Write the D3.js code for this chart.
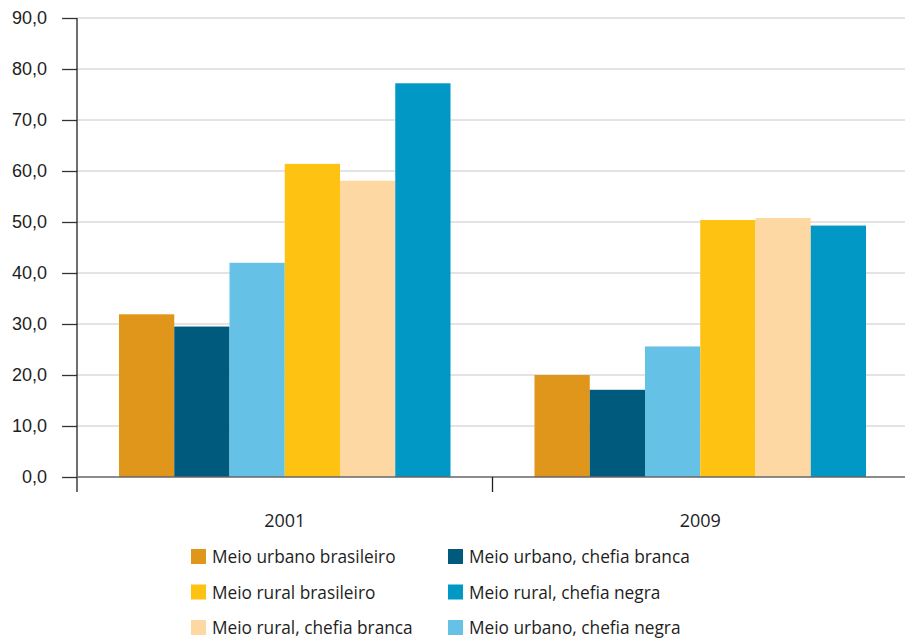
<!DOCTYPE html>
<html>
<head>
<meta charset="utf-8">
<script src="https://cdn.jsdelivr.net/npm/d3@7/dist/d3.min.js"></script>
<style>
  body { margin: 0; background: #fff; }
  svg { display: block; font-family: 'Open Sans', 'Noto Sans', sans-serif; }
  .tick-label { font-size: 18px; fill: #1e1e1e; }
  .legend-text { font-size: 17.3px; fill: #1e1e1e; }
</style>
</head>
<body>
<div id="chart"></div>
<script>
// Data
const years = ['2001', '2009']
const seriesNames = [
  'Meio urbano brasileiro',
  'Meio urbano, chefia branca',
  'Meio urbano, chefia negra',
  'Meio rural brasileiro',
  'Meio rural, chefia branca',
  'Meio rural, chefia negra'
]
const values2001 = [31.9, 29.5, 42.0, 61.4, 58.1, 77.2]
const values2009 = [20.0, 17.1, 25.6, 50.4, 50.8, 49.3]
const yTicks = [0, 10, 20, 30, 40, 50, 60, 70, 80, 90]
const seriesColors = ['#e0961a', '#005a7e', '#66c1e6', '#fdc212', '#fdd8a2', '#0298c6']
// legend is laid out column by column in the original
const legendOrder = [0, 3, 4, 1, 5, 2]

const valuesByYear = { '2001': values2001, '2009': values2009 }

const width = 905
const height = 643
const margin = { top: 18, left: 77, right: -3, bottom: 166 }
const innerWidth = width - margin.left - margin.right
const innerHeight = height - margin.top - margin.bottom

const svg = d3.select('#chart')
  .append('svg')
  .attr('width', width)
  .attr('height', height)

const g = svg.append('g')
  .attr('transform', `translate(${margin.left}, ${margin.top})`)

// Scales
const x0 = d3.scaleBand()
  .domain(years)
  .range([0, innerWidth])

const x1 = d3.scaleBand()
  .domain(d3.range(seriesNames.length))
  .range([0, x0.bandwidth()])
  .paddingOuter(0.76)

const yScale = d3.scaleLinear()
  .domain([0, 90])
  .range([innerHeight, 0])

const fmt = d => d.toFixed(1).replace('.', ',')

// Gridlines (stop at the picture edge)
g.append('g')
  .attr('class', 'grid')
  .selectAll('line')
  .data(yTicks.filter(d => d > 0))
  .join('line')
  .attr('x1', 0)
  .attr('x2', width - margin.left)
  .attr('y1', d => yScale(d))
  .attr('y2', d => yScale(d))
  .attr('stroke', '#c8c8c8')
  .attr('stroke-width', 1)

// Bars
const groups = g.append('g')
  .selectAll('g')
  .data(years)
  .join('g')
  .attr('transform', d => `translate(${x0(d)}, 0)`)

groups.selectAll('rect')
  .data(year => valuesByYear[year].map((v, i) => ({ v, i })))
  .join('rect')
  .attr('x', d => x1(d.i))
  .attr('width', x1.bandwidth())
  .attr('y', d => yScale(d.v))
  .attr('height', d => innerHeight - yScale(d.v))
  .attr('fill', d => seriesColors[d.i])

// Left axis
const yAxis = g.append('g')
  .call(d3.axisLeft(yScale).tickValues(yTicks).tickSize(15).tickPadding(15).tickFormat(fmt))

yAxis.select('.domain').remove()
yAxis.selectAll('line').attr('stroke', '#333').attr('stroke-width', 1.3)
yAxis.selectAll('text').attr('class', 'tick-label').attr('font-size', null).attr('font-family', null)

g.append('line')
  .attr('x1', 0).attr('x2', 0)
  .attr('y1', 0).attr('y2', innerHeight + 15)
  .attr('stroke', '#231f20')
  .attr('stroke-width', 1.3)

// Zero baseline
g.append('line')
  .attr('x1', 0).attr('x2', width - margin.left)
  .attr('y1', innerHeight).attr('y2', innerHeight)
  .attr('stroke', '#666')
  .attr('stroke-width', 1.5)

// Category separators
g.append('g')
  .selectAll('line')
  .data(years.slice(1))
  .join('line')
  .attr('x1', d => x0(d)).attr('x2', d => x0(d))
  .attr('y1', innerHeight).attr('y2', innerHeight + 15)
  .attr('stroke', '#231f20')
  .attr('stroke-width', 1.3)

// Category labels
g.append('g')
  .selectAll('text')
  .data(years)
  .join('text')
  .attr('class', 'tick-label')
  .attr('x', d => x0(d) + x0.bandwidth() / 2)
  .attr('y', innerHeight + 50)
  .attr('text-anchor', 'middle')
  .text(d => d)

// Legend
const legend = svg.append('g')
  .attr('transform', 'translate(191, 549)')

const legendItems = legend.selectAll('g')
  .data(legendOrder)
  .join('g')
  .attr('transform', (d, k) => `translate(${Math.floor(k / 3) * 257}, ${(k % 3) * 35.5})`)

legendItems.append('rect')
  .attr('width', 15)
  .attr('height', 15)
  .attr('fill', d => seriesColors[d])

legendItems.append('text')
  .attr('class', 'legend-text')
  .attr('x', 21)
  .attr('y', 14)
  .text(d => seriesNames[d])
</script>
</body>
</html>
